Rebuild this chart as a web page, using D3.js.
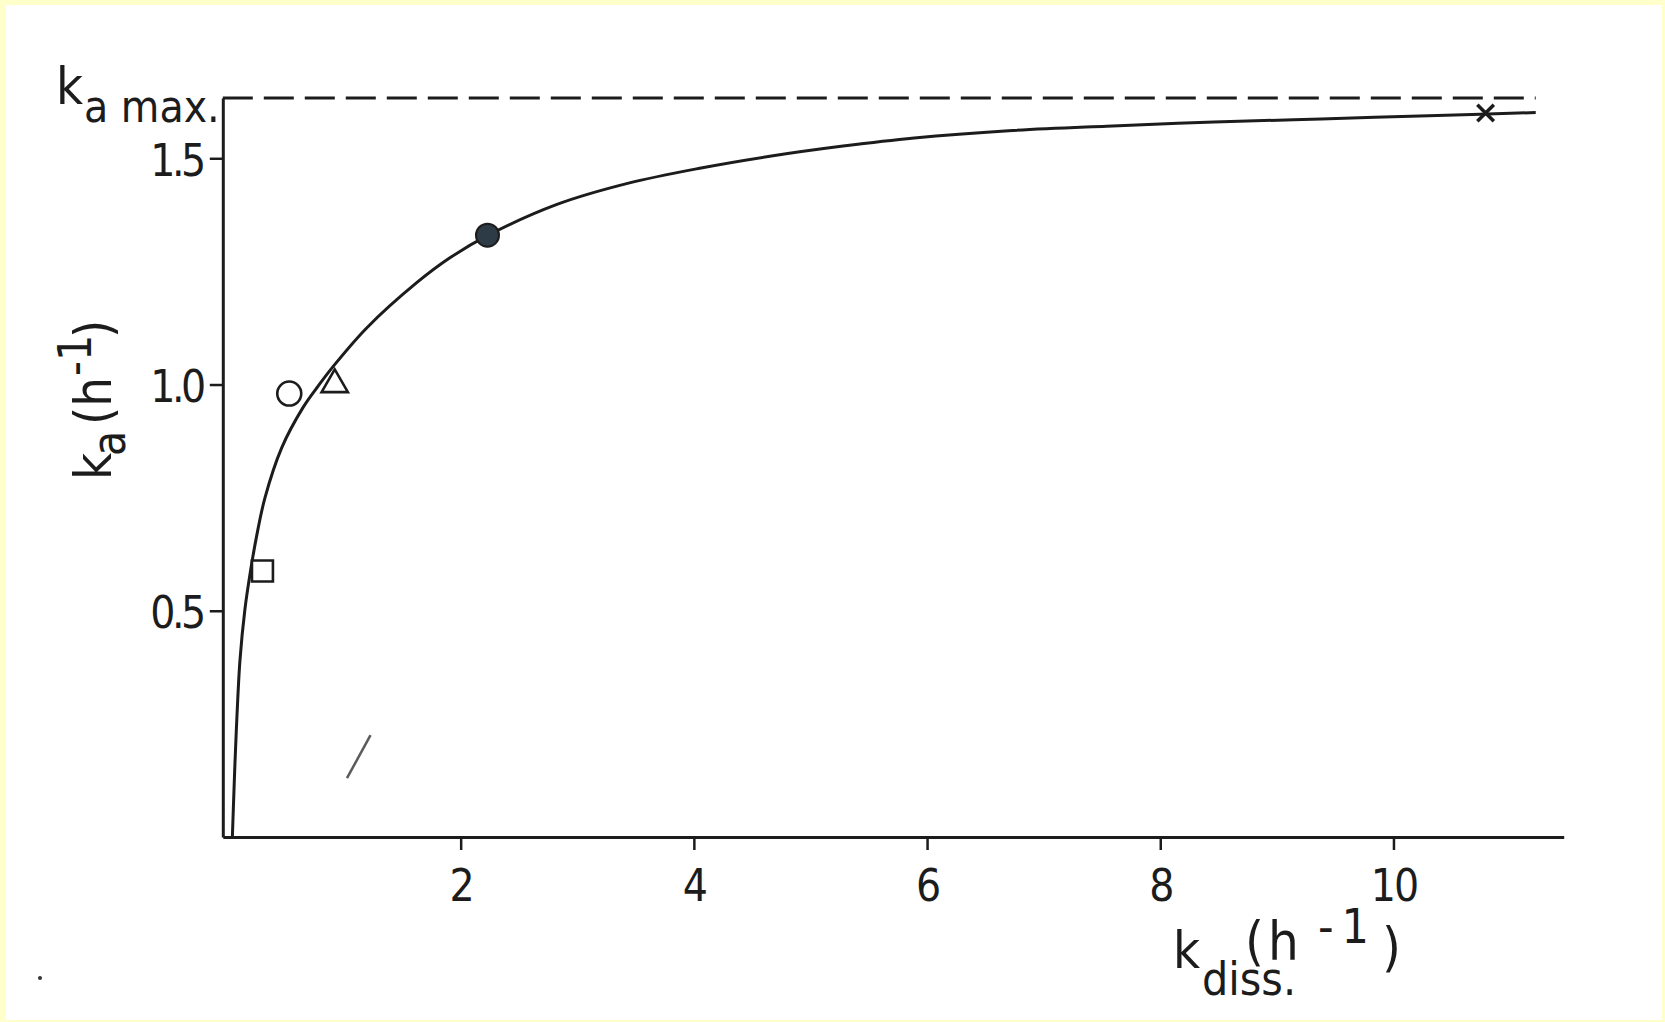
<!DOCTYPE html>
<html>
<head>
<meta charset="utf-8">
<script src="https://cdn.jsdelivr.net/npm/d3@7"></script>
<style>
  html, body { margin: 0; padding: 0; background: #ffffcc; }
  svg { display: block; }
  text { font-family: "DejaVu Sans Condensed", "DejaVu Sans", sans-serif; font-stretch: condensed; fill: #1c1c1c; }
</style>
</head>
<body>
<svg id="chart" width="1665" height="1022"></svg>
<script>
// Absorption rate constant ka as a function of the dissolution rate constant kdiss

// fitted curve, read along its length
const curveKdiss = [0.042, 0.050, 0.061, 0.075, 0.107, 0.150, 0.199, 0.250, 0.322, 0.465, 0.650, 0.779, 0.907, 1.194, 1.623, 1.908, 2.237, 2.826, 3.44, 4.05, 4.665, 5.28, 5.89, 6.70, 7.54, 8.46, 9.38, 10.30, 11.22];
const curveKa    = [0.000, 0.060, 0.140, 0.230, 0.390, 0.504, 0.590, 0.665, 0.750, 0.860, 0.950, 0.997, 1.040, 1.125, 1.225, 1.280, 1.330, 1.398, 1.445, 1.478, 1.505, 1.527, 1.545, 1.561, 1.571, 1.580, 1.587, 1.594, 1.601];

// measured formulations
const pointKdiss = [0.30, 0.53, 0.92, 2.23, 10.79];
const pointKa    = [0.588, 0.98, 1.00, 1.33, 1.60];
const pointShape = ["square", "circle", "triangle", "disc", "cross"];

// plateau of the curve
const kaMax = 1.633;

// axis ticks
const xTicks = [2, 4, 6, 8, 10];
const yTicks = [0.5, 1.0, 1.5];

// stray pen stroke inside the plot area
const penKdiss = [1.025, 1.227];
const penKa    = [0.130, 0.225];

const svg = d3.select("#chart");
const ink = "#1c1c1c";
const tickFont = "'DejaVu Sans Condensed','DejaVu Sans',sans-serif";

// white sheet inside a thin yellow frame
svg.append("rect")
  .attr("x", 6).attr("y", 5)
  .attr("width", 1665 - 6 - 3).attr("height", 1022 - 5 - 2)
  .attr("fill", "#ffffff");

const x = d3.scaleLinear().domain([-0.04, 11.46]).range([222.8, 1563.7]);
const y = d3.scaleLinear().domain([0, 1.633]).range([837, 98.1]);

// x axis
const xAxis = svg.append("g")
  .attr("transform", `translate(0,${y(0)})`)
  .call(d3.axisBottom(x).tickValues(xTicks).tickSize(13).tickSizeOuter(0).tickFormat(d3.format("d")));
xAxis.select(".domain").attr("stroke", ink).attr("stroke-width", 3);
xAxis.selectAll(".tick line").attr("stroke", ink).attr("stroke-width", 2.5);
xAxis.selectAll(".tick text")
  .attr("y", 48).attr("dy", "0.36em")
  .attr("font-size", 44)
  .attr("letter-spacing", -2)
  .style("font-family", tickFont)
  .attr("fill", ink);

// y axis
const yAxis = svg.append("g")
  .attr("transform", `translate(${x(-0.04)},0)`)
  .call(d3.axisLeft(y).tickValues(yTicks).tickSize(13).tickSizeOuter(0).tickFormat(d3.format(".1f")));
yAxis.select(".domain").attr("stroke", ink).attr("stroke-width", 3);
yAxis.selectAll(".tick line").attr("stroke", ink).attr("stroke-width", 2.5);
yAxis.selectAll(".tick text")
  .attr("x", -20).attr("dy", "0.38em")
  .attr("font-size", 44)
  .attr("letter-spacing", -3.5)
  .style("font-family", tickFont)
  .attr("fill", ink);

// dashed plateau line
svg.append("line")
  .attr("x1", x(-0.04)).attr("x2", x(11.22))
  .attr("y1", y(kaMax)).attr("y2", y(kaMax))
  .attr("stroke", ink).attr("stroke-width", 3)
  .attr("stroke-dasharray", "30,11");

// fitted curve
const curveData = curveKdiss.map((k, i) => [k, curveKa[i]]);
svg.append("path")
  .datum(curveData)
  .attr("fill", "none")
  .attr("stroke", ink)
  .attr("stroke-width", 3)
  .attr("d", d3.line().x(d => x(d[0])).y(d => y(d[1])).curve(d3.curveCatmullRom.alpha(0.5)));

// measured points
const pts = pointKdiss.map((k, i) => ({ k, ka: pointKa[i], shape: pointShape[i] }));
const g = svg.append("g");
pts.forEach(p => {
  const cx = x(p.k), cy = y(p.ka);
  if (p.shape === "square") {
    g.append("path").attr("transform", `translate(${cx},${cy})`)
      .attr("d", d3.symbol(d3.symbolSquare, 440)())
      .attr("fill", "#fff").attr("stroke", ink).attr("stroke-width", 2.6);
  } else if (p.shape === "circle") {
    g.append("circle").attr("cx", cx).attr("cy", cy).attr("r", 12)
      .attr("fill", "#fff").attr("stroke", ink).attr("stroke-width", 2.6);
  } else if (p.shape === "triangle") {
    g.append("path").attr("transform", `translate(${cx},${cy})`)
      .attr("d", d3.symbol(d3.symbolTriangle, 300)())
      .attr("fill", "#fff").attr("stroke", ink).attr("stroke-width", 2.6);
  } else if (p.shape === "disc") {
    g.append("circle").attr("cx", cx).attr("cy", cy).attr("r", 11.5)
      .attr("fill", "#2c3b45").attr("stroke", ink).attr("stroke-width", 2);
  } else if (p.shape === "cross") {
    g.append("path").attr("transform", `translate(${cx},${cy})`)
      .attr("d", d3.symbol(d3.symbolTimes, 180)())
      .attr("fill", "none").attr("stroke", ink).attr("stroke-width", 3.5);
  }
});

// pen stroke
svg.append("line")
  .attr("x1", x(penKdiss[0])).attr("y1", y(penKa[0]))
  .attr("x2", x(penKdiss[1])).attr("y2", y(penKa[1]))
  .attr("stroke", "#333").attr("stroke-width", 2.5).attr("opacity", 0.8);
svg.append("circle").attr("cx", 40).attr("cy", 978).attr("r", 2).attr("fill", "#333");

// plateau label  k_a max.
const lmax = svg.append("text");
lmax.append("tspan").attr("x", 56).attr("y", 104).attr("font-size", 52).text("k");
lmax.append("tspan").attr("x", 84).attr("y", 122).attr("font-size", 44).text("a max.");

// x axis title  k_diss.(h^-1)
const xt = svg.append("text");
xt.append("tspan").attr("x", 1173).attr("y", 968).attr("font-size", 52).text("k");
xt.append("tspan").attr("x", 1202).attr("y", 995).attr("font-size", 46).text("diss.");
xt.append("tspan").attr("x", 1245).attr("y", 960).attr("font-size", 54).attr("letter-spacing", 4).text("(h");
xt.append("tspan").attr("x", 1318).attr("y", 943).attr("font-size", 48).attr("letter-spacing", 8).text("-1");
xt.append("tspan").attr("x", 1382).attr("y", 966).attr("font-size", 54).text(")");

// y axis title  k_a(h^-1), reading upwards
const yt = svg.append("text").attr("transform", "translate(111,480) rotate(-90)");
yt.append("tspan").attr("x", 0).attr("y", 0).attr("font-size", 52).text("k");
yt.append("tspan").attr("x", 24).attr("y", 14).attr("font-size", 46).text("a");
yt.append("tspan").attr("x", 55).attr("y", 0).attr("font-size", 52).text("(h");
yt.append("tspan").attr("x", 104).attr("y", -20).attr("font-size", 46).text("-1");
yt.append("tspan").attr("x", 142).attr("y", 0).attr("font-size", 52).text(")");
</script>
</body>
</html>
